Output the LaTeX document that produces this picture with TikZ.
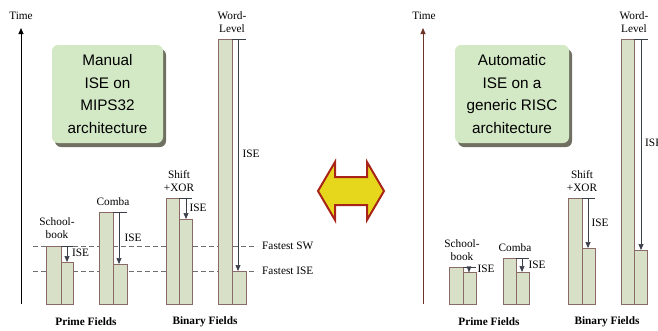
\documentclass[tikz,border=0pt]{standalone}
\usepackage{fontspec}
\setmainfont{Liberation Serif}
\newfontfamily\boxfont{Liberation Sans}
\usetikzlibrary{arrows.meta,shadows}
\definecolor{barfill}{HTML}{D8E0C8}
\definecolor{barline}{HTML}{8A6A66}
\definecolor{boxfill}{HTML}{D3E8C5}
\definecolor{shadowc}{HTML}{707062}
\definecolor{arrowc}{HTML}{3A3F4A}
\definecolor{dblfill}{HTML}{E6D61C}
\definecolor{dblline}{HTML}{A82418}
\definecolor{raxis}{HTML}{6E3426}
\definecolor{dashc}{HTML}{6E6E6E}
\begin{document}
\begin{tikzpicture}[x=1pt,y=-1pt,
  bar/.style={draw=barline, fill=barfill, line width=0.6pt, inner sep=0pt, outer sep=0pt, anchor=south west},
  lbl/.style={font=\fontsize{11.3}{13}\selectfont, inner sep=0pt, align=center},
  fld/.style={font=\fontsize{11.3}{13}\selectfont\bfseries, inner sep=0pt},
  dl/.style={draw=dashc, line width=0.7pt, dash pattern=on 5pt off 3pt},
  isearr/.style={draw=arrowc, line width=0.7pt, -{Triangle[width=5pt,length=6pt]}},
  topln/.style={draw=arrowc, line width=0.7pt},
  axis/.style={line width=0.8pt, -{Triangle[width=5pt,length=6pt]}},
  greenbox/.style={fill=boxfill, rounded corners=6pt, inner sep=0pt, align=center,
    font=\boxfont\fontsize{15.3}{22.4}\selectfont,
    drop shadow={shadow xshift=3pt, shadow yshift=-4pt, fill=shadowc, opacity=1}}]
\useasboundingbox (0,0) rectangle (658,330);
\clip (0,0) rectangle (658,330);

% ---------------- left panel ----------------
\node[lbl] (ltime) at (21,16) {Time};
\coordinate (lax0) at (21,304);
\coordinate (lax1) at (21,28);
\draw[axis, draw=black, fill=black] (lax0) -- (lax1);

\node[greenbox, minimum width=111pt, minimum height=98pt] (lbox) at (107.5,94) {Manual\\ISE on\\MIPS32\\architecture};

% dashed reference lines
\coordinate (sw0) at (33,246);
\coordinate (sw1) at (257,246);
\coordinate (ise0) at (33,271);
\coordinate (ise1) at (257,271);
\draw[dl] (sw0) -- (sw1);
\draw[dl] (ise0) -- (ise1);
\node[lbl, anchor=west] (fsw) at (262,246) {Fastest SW};
\node[lbl, anchor=west] (fise) at (262,271) {Fastest ISE};

% Schoolbook
\node[bar, minimum width=15pt, minimum height=58pt] (sb1) at (46,304) {};
\node[bar, minimum width=12pt, minimum height=42pt] (sb2) at (61,304) {};
\coordinate (sbt) at (67,246);
\coordinate (sbe) at (73,246);
\draw[topln] (sb1.north east) -- (sbe);
\draw[isearr] (sbt) -- (sbt |- sb2.north);
\node[lbl] (sbise) at (80.5,253) {ISE};
\node[lbl] (sbl) at (57,228.5) {School-\\book};

% Comba
\node[bar, minimum width=14pt, minimum height=92pt] (cb1) at (99,304) {};
\node[bar, minimum width=14pt, minimum height=40pt] (cb2) at (113,304) {};
\coordinate (cbt) at (119,212);
\coordinate (cbe) at (127,212);
\draw[topln] (cb1.north east) -- (cbe);
\draw[isearr] (cbt) -- (cbt |- cb2.north);
\node[lbl] (cbise) at (133,238) {ISE};
\node[lbl] (cbl) at (113,202) {Comba};

% Shift+XOR
\node[bar, minimum width=13pt, minimum height=106pt] (sx1) at (166,304) {};
\node[bar, minimum width=13pt, minimum height=85pt] (sx2) at (179,304) {};
\coordinate (sxt) at (186,198);
\coordinate (sxe) at (192,198);
\draw[topln] (sx1.north east) -- (sxe);
\draw[isearr] (sxt) -- (sxt |- sx2.north);
\node[lbl] (sxise) at (198,208) {ISE};
\node[lbl] (sxl) at (179,181.5) {Shift\\+XOR};

% Word-Level
\node[bar, minimum width=14pt, minimum height=265pt] (wl1) at (218,304) {};
\node[bar, minimum width=14pt, minimum height=33pt] (wl2) at (232,304) {};
\coordinate (wlt) at (238,39);
\coordinate (wle) at (246,39);
\draw[topln] (wl1.north east) -- (wle);
\draw[isearr] (wlt) -- (wlt |- wl2.north);
\node[lbl] (wlise) at (251,154) {ISE};
\node[lbl] (wll) at (232,22.5) {Word-\\Level};

\node[fld] (pf) at (86,322) {Prime Fields};
\node[fld] (bf) at (205,322) {Binary Fields};

% ---------------- double arrow ----------------
\draw[fill=dblfill, draw=dblline, line width=2pt, line join=miter]
  (318,191) -- (335,162) -- (335,177) -- (367,177) -- (367,162) -- (384,191)
  -- (367,220) -- (367,205) -- (335,205) -- (335,220) -- cycle;

% ---------------- right panel ----------------
\node[lbl] (rtime) at (424,16) {Time};
\coordinate (rax0) at (423,304);
\coordinate (rax1) at (423,28);
\draw[axis, draw=raxis, fill=black] (rax0) -- (rax1);

\node[greenbox, minimum width=114pt, minimum height=98pt] (rbox) at (512,94) {Automatic\\ISE on a\\generic RISC\\architecture};

% Schoolbook
\node[bar, minimum width=14pt, minimum height=37pt] (rsb1) at (449,304) {};
\node[bar, minimum width=13pt, minimum height=32pt] (rsb2) at (463,304) {};
\coordinate (rsbt) at (469,267);
\coordinate (rsbe) at (476,267);
\draw[topln] (rsb1.north east) -- (rsbe);
\draw[draw=arrowc, fill=arrowc] (rsbt) ++(-2,-0.5) -- ++(4,0) -- (rsbt |- rsb2.north) -- cycle;
\node[lbl] (rsbise) at (486,269) {ISE};
\node[lbl] (rsbl) at (462,250) {School-\\book};

% Comba
\node[bar, minimum width=13pt, minimum height=46pt] (rcb1) at (503,304) {};
\node[bar, minimum width=13pt, minimum height=32pt] (rcb2) at (516,304) {};
\coordinate (rcbt) at (522,258);
\coordinate (rcbe) at (529,258);
\draw[topln] (rcb1.north east) -- (rcbe);
\draw[isearr] (rcbt) -- (rcbt |- rcb2.north);
\node[lbl] (rcbise) at (537,265) {ISE};
\node[lbl] (rcbl) at (515,248) {Comba};

% Shift+XOR
\node[bar, minimum width=14pt, minimum height=106pt] (rsx1) at (568,304) {};
\node[bar, minimum width=13pt, minimum height=56pt] (rsx2) at (582,304) {};
\coordinate (rsxt) at (588,198);
\coordinate (rsxe) at (595,198);
\draw[topln] (rsx1.north east) -- (rsxe);
\draw[isearr] (rsxt) -- (rsxt |- rsx2.north);
\node[lbl] (rsxise) at (600,223) {ISE};
\node[lbl] (rsxl) at (582,181.5) {Shift\\+XOR};

% Word-Level
\node[bar, minimum width=13pt, minimum height=265pt] (rwl1) at (621,304) {};
\node[bar, minimum width=13pt, minimum height=54pt] (rwl2) at (634,304) {};
\coordinate (rwlt) at (641,39);
\coordinate (rwle) at (648,39);
\draw[topln] (rwl1.north east) -- (rwle);
\draw[isearr] (rwlt) -- (rwlt |- rwl2.north);
\node[lbl, anchor=west] (rwlise) at (645,143) {ISE};
\node[lbl] (rwll) at (634,22.5) {Word-\\Level};

\node[fld] (rpf) at (489,322) {Prime Fields};
\node[fld] (rbf) at (607,322) {Binary Fields};
\end{tikzpicture}
\end{document}
